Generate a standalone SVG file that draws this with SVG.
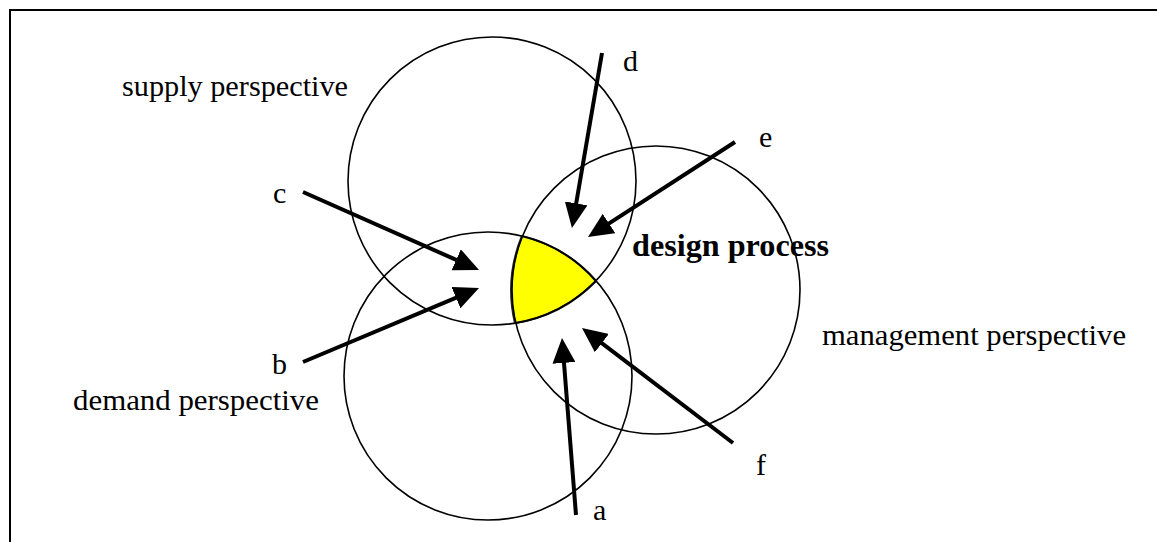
<svg xmlns="http://www.w3.org/2000/svg" width="1157" height="542" viewBox="0 0 1157 542">
  <style>
    .circle { fill: none; stroke: #000; stroke-width: 1.6; }
    .arrow { fill: none; stroke: #000; stroke-width: 4; marker-end: url(#head); }
    .lbl { font-family: "Liberation Serif", "Times New Roman", serif; font-size: 30px; fill: #000; }
    .bold { font-weight: bold; font-size: 32px; }
  </style>
  <defs>
    <marker id="head" markerUnits="userSpaceOnUse" markerWidth="25" markerHeight="23" refX="10" refY="11.5" orient="auto">
      <path d="M0,0 L25,11.5 L0,23 Z" fill="#000"/>
    </marker>
  </defs>
  <rect width="1157" height="542" fill="#fff"/>
  <path d="M10,542 V10 H1157" fill="none" stroke="#000" stroke-width="2"/>

  <g id="design-process">
    <path d="M522,236 A144,144 0 0 1 596,281 A144,144 0 0 1 515,323 A144,144 0 0 1 522,236 Z" fill="#ffff00" stroke="#222" stroke-width="2.2" stroke-linejoin="round"/>
    <text class="lbl bold" x="632" y="256" textLength="197" lengthAdjust="spacingAndGlyphs">design process</text>
  </g>

  <g id="supply">
    <circle class="circle" cx="492" cy="181" r="144"/>
    <text class="lbl" x="122" y="96" textLength="226" lengthAdjust="spacingAndGlyphs">supply perspective</text>
  </g>

  <g id="demand">
    <circle class="circle" cx="488" cy="376" r="144"/>
    <text class="lbl" x="73" y="410" textLength="246" lengthAdjust="spacingAndGlyphs">demand perspective</text>
  </g>

  <g id="management">
    <circle class="circle" cx="656" cy="290" r="144"/>
    <text class="lbl" x="822" y="345" textLength="304" lengthAdjust="spacingAndGlyphs">management perspective</text>
  </g>

  <g id="connectors">
    <line class="arrow" x1="303" y1="192" x2="465.3" y2="263.9"/>
    <line class="arrow" x1="303" y1="362" x2="465.2" y2="293.8"/>
    <line class="arrow" x1="602" y1="53" x2="574.5" y2="213.2"/>
    <line class="arrow" x1="735" y1="142" x2="600.6" y2="228.9"/>
    <line class="arrow" x1="576" y1="515" x2="563.2" y2="352.9"/>
    <line class="arrow" x1="733" y1="443" x2="593.9" y2="337.1"/>
    <text class="lbl" x="273" y="203">c</text>
    <text class="lbl" x="272" y="374">b</text>
    <text class="lbl" x="623" y="71">d</text>
    <text class="lbl" x="759" y="147">e</text>
    <text class="lbl" x="593" y="520">a</text>
    <text class="lbl" x="756" y="475">f</text>
  </g>
</svg>
